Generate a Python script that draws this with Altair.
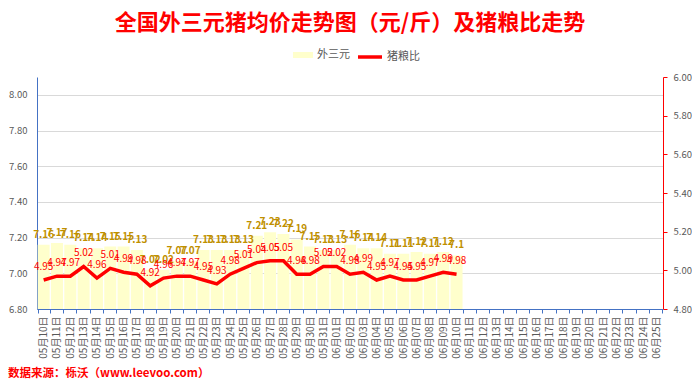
import altair as alt
import pandas as pd

FONT = "Noto Sans CJK SC"

dates = [f"05月{d:02d}日" for d in range(10, 32)] + [f"06月{d:02d}日" for d in range(1, 26)]
price = [7.16, 7.17, 7.16, 7.14, 7.14, 7.15, 7.15, 7.13,
         7.02, 7.02, 7.07, 7.07, 7.13, 7.13, 7.13, 7.13,
         7.21, 7.23, 7.22, 7.19, 7.15, 7.13, 7.13, 7.16,
         7.14, 7.14, 7.11, 7.11, 7.12, 7.11, 7.12, 7.10]
ratio = [4.95, 4.97, 4.97, 5.02, 4.96, 5.01, 4.99, 4.98,
         4.92, 4.96, 4.97, 4.97, 4.95, 4.93, 4.98, 5.01,
         5.04, 5.05, 5.05, 4.98, 4.98, 5.02, 5.02, 4.98,
         4.99, 4.95, 4.97, 4.95, 4.95, 4.97, 4.99, 4.98]
left_ticks = [6.8, 7.0, 7.2, 7.4, 7.6, 7.8, 8.0]
right_ticks = [4.8, 5.0, 5.2, 5.4, 5.6, 5.8, 6.0]
series = ["外三元", "猪粮比"]
title_text = "全国外三元猪均价走势图（元/斤）及猪粮比走势"
source_text = "数据来源：栎沃（www.leevoo.com）"

n = len(price)
df = pd.DataFrame({
    "date": dates[:n],
    "price": price,
    "ratio": ratio,
    "plabel": [str(v) for v in price],
    "rlabel": [str(v) for v in ratio],
    "s1": series[0],
    "s2": series[1],
})

x_enc = alt.X(
    "date:N", sort=None,
    scale=alt.Scale(domain=dates, paddingInner=0.1, paddingOuter=0.05),
    axis=alt.Axis(title=None, labelAngle=270, labelFont=FONT, labelFontSize=10,
                  labelColor="#595959", domainColor="#4472C4", tickColor="#4472C4",
                  tickSize=4, tickBand="extent", labelPadding=3, grid=False,
                  labelOverlap=False, zindex=1),
)

base = alt.Chart(df)

bars = base.mark_bar(clip=True).encode(
    x=x_enc,
    y=alt.Y("price:Q", scale=alt.Scale(domain=[6.8, 8.1], nice=False, zero=False),
            axis=alt.Axis(title=None, orient="left", values=left_ticks, tickCount=10,
                          format=".2f", labelFont=FONT, labelFontSize=9.5,
                          labelColor="#595959", domainColor="#4472C4", ticks=False,
                          labelPadding=10, labelOverlap=False, grid=True,
                          gridColor="#D9D9D9")),
    fill=alt.Fill("s1:N", scale=alt.Scale(domain=[series[0]], range=["#FFFFCC"]),
                  legend=alt.Legend(orient="none", legendX=256, legendY=-32, title=None,
                                    symbolType="M-1,-0.3H1V0.3H-1Z", symbolSize=400,
                                    symbolStrokeWidth=0, labelFont=FONT, labelFontSize=11,
                                    labelColor="#595959", labelOffset=4, padding=0)),
)

bar_text = base.mark_text(dy=-10, color="#BF9000", fontWeight="bold", fontSize=10,
                          font=FONT).encode(
    x=x_enc, y=alt.Y("price:Q"), text="plabel:N")

src = alt.Chart(pd.DataFrame({"t": [source_text]})).mark_text(
    align="left", baseline="middle", color="#FF0000", fontWeight="bold",
    fontSize=11.5, font=FONT).encode(x=alt.value(-29), y=alt.value(297), text="t:N")

left = alt.layer(bars, bar_text, src)

line = base.mark_line(strokeWidth=3.5).encode(
    x=x_enc,
    y=alt.Y("ratio:Q", scale=alt.Scale(domain=[4.8, 6.0], nice=False, zero=False),
            axis=alt.Axis(title=None, orient="right", values=right_ticks, tickCount=10,
                          format=".2f", labelFont=FONT, labelFontSize=9.5,
                          labelColor="#595959", domainColor="#FF0000",
                          tickColor="#FF0000", tickSize=4, labelPadding=6,
                          labelOverlap=False, grid=False)),
    stroke=alt.Stroke("s2:N", scale=alt.Scale(domain=[series[1]], range=["#FF0000"]),
                      legend=alt.Legend(orient="none", legendX=319, legendY=-34, title=None,
                                        symbolType="stroke", symbolSize=576,
                                        symbolStrokeWidth=3.5, labelFont=FONT,
                                        labelFontSize=11, labelColor="#595959",
                                        labelOffset=3, padding=0)),
)

line_text = base.mark_text(dy=-13, color="#FF0000", fontSize=10, font=FONT).encode(
    x=x_enc, y=alt.Y("ratio:Q"), text="rlabel:N")

right = alt.layer(line, line_text)

chart = alt.layer(left, right).resolve_scale(y="independent").properties(
    width=626, height=232,
    title=alt.TitleParams(text=title_text, fontSize=22, color="#FF0000", font=FONT,
                          fontWeight="bold", anchor="middle", offset=8),
    padding={"left": 29, "top": 69, "right": 29, "bottom": 73},
    autosize=alt.AutoSizeParams(type="none"),
).configure_view(stroke=None)

chart.save("out.html", embed_options={"renderer": "svg", "actions": False})
